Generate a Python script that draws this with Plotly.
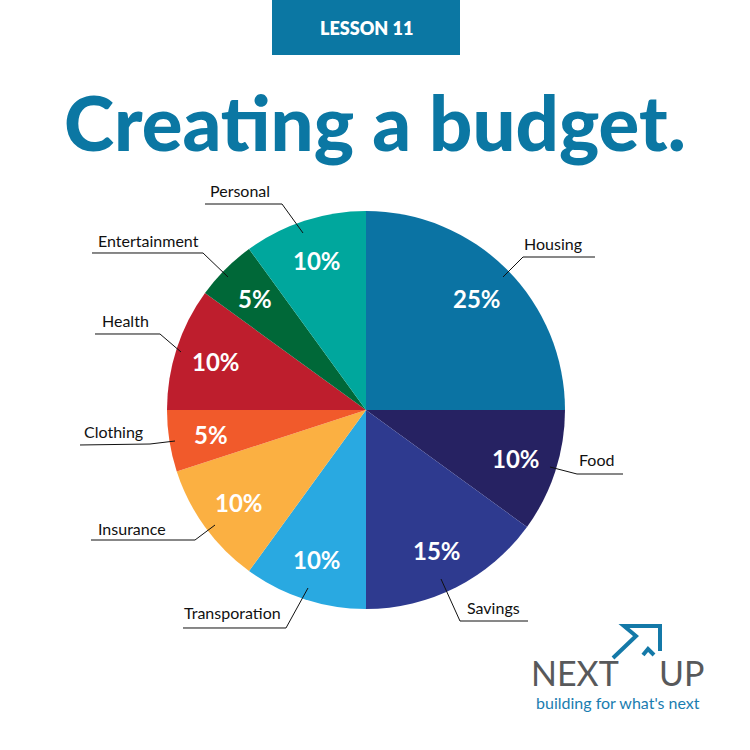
import math
import plotly.graph_objects as go

# ---- data ----
categories = ["Housing", "Food", "Savings", "Transporation", "Insurance",
              "Clothing", "Health", "Entertainment", "Personal"]
shares = [25, 10, 15, 10, 10, 5, 10, 5, 10]
colors = ["#0B73A3", "#262262", "#2E3A8F", "#29A9E1", "#FBB042",
          "#F15A2B", "#BE1E2D", "#006838", "#00A79D"]
title_text = "Creating a budget."
lesson_text = "LESSON 11"

# ---- layout constants (pixels in a 750x750 canvas) ----
W = H = 750
CX, CY, R = 366, 410, 199
TEXT_R = 0.79

label_pos = {
    "Housing": (553, 243), "Food": (596, 459), "Savings": (493, 607),
    "Transporation": (233, 612), "Insurance": (132, 528), "Clothing": (113, 431),
    "Health": (125, 320), "Entertainment": (148, 240), "Personal": (240, 191),
}
leader = {
    "Housing": [(503, 277), (523, 257), (595, 257)],
    "Food": [(550, 467), (577, 474), (623, 474)],
    "Savings": [(441, 579), (460, 621), (528, 621)],
    "Transporation": [(308, 588), (286, 628), (183, 628)],
    "Insurance": [(215, 525), (195, 540), (91, 540)],
    "Clothing": [(175, 441), (150, 444), (80, 445)],
    "Health": [(181, 352), (160, 334), (95, 334)],
    "Entertainment": [(228, 277), (203, 253), (92, 253)],
    "Personal": [(303, 233), (282, 204), (205, 204)],
}


def px(x, y):
    return x / W, 1 - y / H


dom_x = [(CX - R) / W, (CX + R) / W]
dom_y = [1 - (CY + R) / H, 1 - (CY - R) / H]

fig = go.Figure()
fig.add_trace(go.Pie(
    labels=categories, values=shares, sort=False, direction="clockwise",
    rotation=0, marker=dict(colors=colors, line=dict(width=0)),
    textinfo="none", hoverinfo="label+percent", showlegend=False,
    domain=dict(x=dom_x, y=dom_y),
))

shapes = []
annotations = []

# percentage labels at each slice's mid-angle (derived from the values)
total = sum(shares)
cum = 0
for v in shares:
    ang = math.radians((cum + v / 2) / total * 360)
    cum += v
    x, y = px(CX + TEXT_R * R * math.sin(ang), CY - TEXT_R * R * math.cos(ang))
    annotations.append(dict(text=f"{v}%", x=x, y=y, xref="paper", yref="paper",
                            showarrow=False, xanchor="center", yanchor="middle",
                            font=dict(family="Lato", size=24, color="white", weight=700)))

# lesson banner
x0, y0 = px(272, 55)
x1, y1 = px(460, 0)
shapes.append(dict(type="rect", xref="paper", yref="paper", x0=x0, y0=y0, x1=x1, y1=y1,
                   fillcolor="#0B77A3", line=dict(width=0), layer="below"))
lx, ly = px(366, 28)
annotations.append(dict(text=lesson_text, x=lx, y=ly, xref="paper", yref="paper",
                        showarrow=False, xanchor="center", yanchor="middle",
                        font=dict(family="Lato", size=18, color="white", weight=800)))

# title
tx, ty = px(375, 121)
annotations.append(dict(text=title_text, x=tx, y=ty, xref="paper", yref="paper",
                        showarrow=False, xanchor="center", yanchor="middle",
                        font=dict(family="Lato", size=76, color="#0B77A3", weight=900)))

# category labels with leader lines
for name in categories:
    x, y = px(*label_pos[name])
    annotations.append(dict(text=name, x=x, y=y, xref="paper", yref="paper",
                            showarrow=False, xanchor="center", yanchor="middle",
                            font=dict(family="Lato", size=16, color="#111111")))
    pts = leader[name]
    path = "M " + " L ".join(f"{px(a, b)[0]:.5f},{px(a, b)[1]:.5f}" for a, b in pts)
    shapes.append(dict(type="path", xref="paper", yref="paper", path=path,
                       line=dict(color="#111111", width=1)))

# logo arrow
arrow_paths = [
    [(613, 658), (636, 636), (624, 626), (660, 626), (660, 651)],
    [(643, 655), (648, 649), (654, 655)],
]
for pts in arrow_paths:
    path = "M " + " L ".join(f"{px(a, b)[0]:.5f},{px(a, b)[1]:.5f}" for a, b in pts)
    shapes.append(dict(type="path", xref="paper", yref="paper", path=path,
                       line=dict(color="#1479A8", width=4)))

for txt, cx in (("NEXT", 575), ("UP", 681)):
    x, y = px(cx, 672)
    annotations.append(dict(text=txt, x=x, y=y, xref="paper", yref="paper",
                            showarrow=False, xanchor="center", yanchor="middle",
                            font=dict(family="Lato", size=34, color="#58595B", weight=400)))
x, y = px(618, 702)
annotations.append(dict(text="building for what's next", x=x, y=y, xref="paper", yref="paper",
                        showarrow=False, xanchor="center", yanchor="middle",
                        font=dict(family="Lato", size=16, color="#1A7DB0")))

fig.update_layout(
    width=W, height=H, margin=dict(l=0, r=0, t=0, b=0),
    paper_bgcolor="white", plot_bgcolor="white",
    shapes=shapes, annotations=annotations,
)

fig.write_html("out.html", config={"displayModeBar": False},
               post_script="document.body.style.margin='0';")
